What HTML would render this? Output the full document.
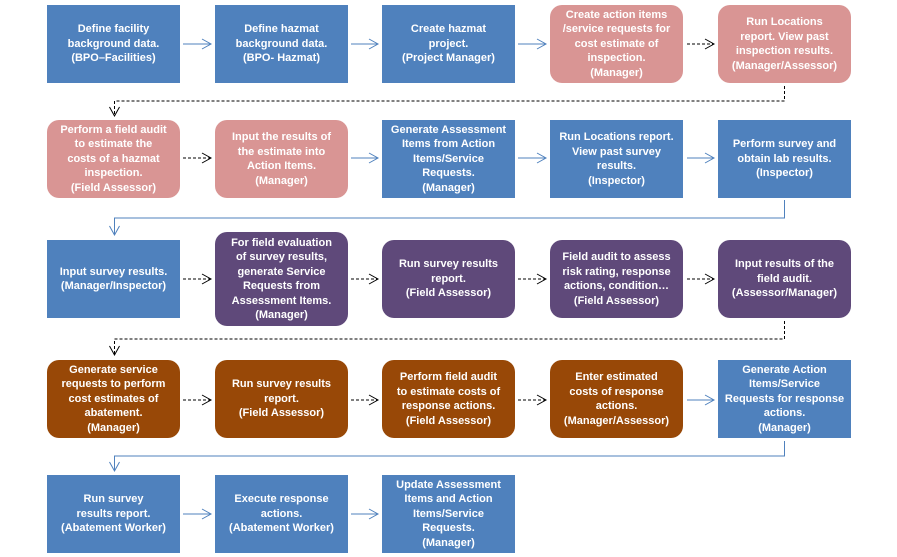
<!DOCTYPE html>
<html><head><meta charset="utf-8"><style>
body{margin:0;width:897px;height:557px;background:#fff;position:relative;overflow:hidden;font-family:"Liberation Sans",sans-serif}
.b{position:absolute;width:133px;height:78px;display:flex;align-items:center;justify-content:center;text-align:center;color:#fff;font-size:11px;font-weight:bold;line-height:14.5px;box-sizing:border-box;padding:0 2px}
.bl{background:#4f81bd}.pk{background:#d99594;border-radius:12px}.pu{background:#5f497a;border-radius:12px}.br{background:#984807;border-radius:12px}
svg{position:absolute;left:0;top:0}
</style></head><body>
<svg width="897" height="557">
<defs>
<marker id="s" markerWidth="12" markerHeight="12" refX="10" refY="6" orient="auto" markerUnits="userSpaceOnUse"><path d="M1,1 L10,6 L1,11" fill="none" stroke="#4f81bd" stroke-width="1"/></marker>
<marker id="d" markerWidth="12" markerHeight="12" refX="10" refY="6" orient="auto" markerUnits="userSpaceOnUse"><path d="M1,1 L10,6 L1,11" fill="none" stroke="#000" stroke-width="1"/></marker>
</defs>
<g fill="none" stroke-width="1">
<path d="M183 44H211" stroke="#4f81bd" marker-end="url(#s)"/>
<path d="M351 44H378" stroke="#4f81bd" marker-end="url(#s)"/>
<path d="M518 44H546" stroke="#4f81bd" marker-end="url(#s)"/>
<path d="M687 44H714" stroke="#000" stroke-dasharray="3,2" marker-end="url(#d)"/>
<path d="M784.5 86V101H114.5V116" stroke="#000" stroke-dasharray="3,2" marker-end="url(#d)"/>
<path d="M183 158H211" stroke="#000" stroke-dasharray="3,2" marker-end="url(#d)"/>
<path d="M351 158H378" stroke="#4f81bd" marker-end="url(#s)"/>
<path d="M518 158H546" stroke="#4f81bd" marker-end="url(#s)"/>
<path d="M687 158H714" stroke="#4f81bd" marker-end="url(#s)"/>
<path d="M784.5 200V218H114.5V235" stroke="#4f81bd" marker-end="url(#s)"/>
<path d="M183 279H211" stroke="#000" stroke-dasharray="3,2" marker-end="url(#d)"/>
<path d="M351 279H378" stroke="#000" stroke-dasharray="3,2" marker-end="url(#d)"/>
<path d="M518 279H546" stroke="#000" stroke-dasharray="3,2" marker-end="url(#d)"/>
<path d="M687 279H714" stroke="#000" stroke-dasharray="3,2" marker-end="url(#d)"/>
<path d="M784.5 321V339H114.5V355" stroke="#000" stroke-dasharray="3,2" marker-end="url(#d)"/>
<path d="M183 400H211" stroke="#000" stroke-dasharray="3,2" marker-end="url(#d)"/>
<path d="M351 400H378" stroke="#000" stroke-dasharray="3,2" marker-end="url(#d)"/>
<path d="M518 400H546" stroke="#000" stroke-dasharray="3,2" marker-end="url(#d)"/>
<path d="M687 400H714" stroke="#4f81bd" marker-end="url(#s)"/>
<path d="M784.5 441V456H114.5V471" stroke="#4f81bd" marker-end="url(#s)"/>
<path d="M183 514H211" stroke="#4f81bd" marker-end="url(#s)"/>
<path d="M351 514H378" stroke="#4f81bd" marker-end="url(#s)"/>
</g>
</svg>
<div class="b bl" style="left:47px;top:5px">Define facility<br>background data.<br>(BPO–Facilities)</div>
<div class="b bl" style="left:215px;top:5px">Define hazmat<br>background data.<br>(BPO- Hazmat)</div>
<div class="b bl" style="left:382px;top:5px">Create hazmat<br>project.<br>(Project Manager)</div>
<div class="b pk" style="left:550px;top:5px">Create action items<br>/service requests for<br>cost estimate of<br>inspection.<br>(Manager)</div>
<div class="b pk" style="left:718px;top:5px">Run Locations<br>report. View past<br>inspection results.<br>(Manager/Assessor)</div>

<div class="b pk" style="left:47px;top:120px">Perform a field audit<br>to estimate the<br>costs of a hazmat<br>inspection.<br>(Field Assessor)</div>
<div class="b pk" style="left:215px;top:120px">Input the results of<br>the estimate into<br>Action Items.<br>(Manager)</div>
<div class="b bl" style="left:382px;top:120px">Generate Assessment<br>Items from Action<br>Items/Service<br>Requests.<br>(Manager)</div>
<div class="b bl" style="left:550px;top:120px">Run Locations report.<br>View past survey<br>results.<br>(Inspector)</div>
<div class="b bl" style="left:718px;top:120px">Perform survey and<br>obtain lab results.<br>(Inspector)</div>

<div class="b bl" style="left:47px;top:240px">Input survey results.<br>(Manager/Inspector)</div>
<div class="b pu" style="left:215px;top:232px;height:94px">For field evaluation<br>of survey results,<br>generate Service<br>Requests from<br>Assessment Items.<br>(Manager)</div>
<div class="b pu" style="left:382px;top:240px">Run survey results<br>report.<br>(Field Assessor)</div>
<div class="b pu" style="left:550px;top:240px">Field audit to assess<br>risk rating, response<br>actions, condition…<br>(Field Assessor)</div>
<div class="b pu" style="left:718px;top:240px">Input results of the<br>field audit.<br>(Assessor/Manager)</div>

<div class="b br" style="left:47px;top:360px">Generate service<br>requests to perform<br>cost estimates of<br>abatement.<br>(Manager)</div>
<div class="b br" style="left:215px;top:360px">Run survey results<br>report.<br>(Field Assessor)</div>
<div class="b br" style="left:382px;top:360px">Perform field audit<br>to estimate costs of<br>response actions.<br>(Field Assessor)</div>
<div class="b br" style="left:550px;top:360px">Enter estimated<br>costs of response<br>actions.<br>(Manager/Assessor)</div>
<div class="b bl" style="left:718px;top:360px">Generate Action<br>Items/Service<br>Requests for response<br>actions.<br>(Manager)</div>

<div class="b bl" style="left:47px;top:475px">Run survey<br>results report.<br>(Abatement Worker)</div>
<div class="b bl" style="left:215px;top:475px">Execute response<br>actions.<br>(Abatement Worker)</div>
<div class="b bl" style="left:382px;top:475px">Update Assessment<br>Items and Action<br>Items/Service<br>Requests.<br>(Manager)</div>
</body></html>
